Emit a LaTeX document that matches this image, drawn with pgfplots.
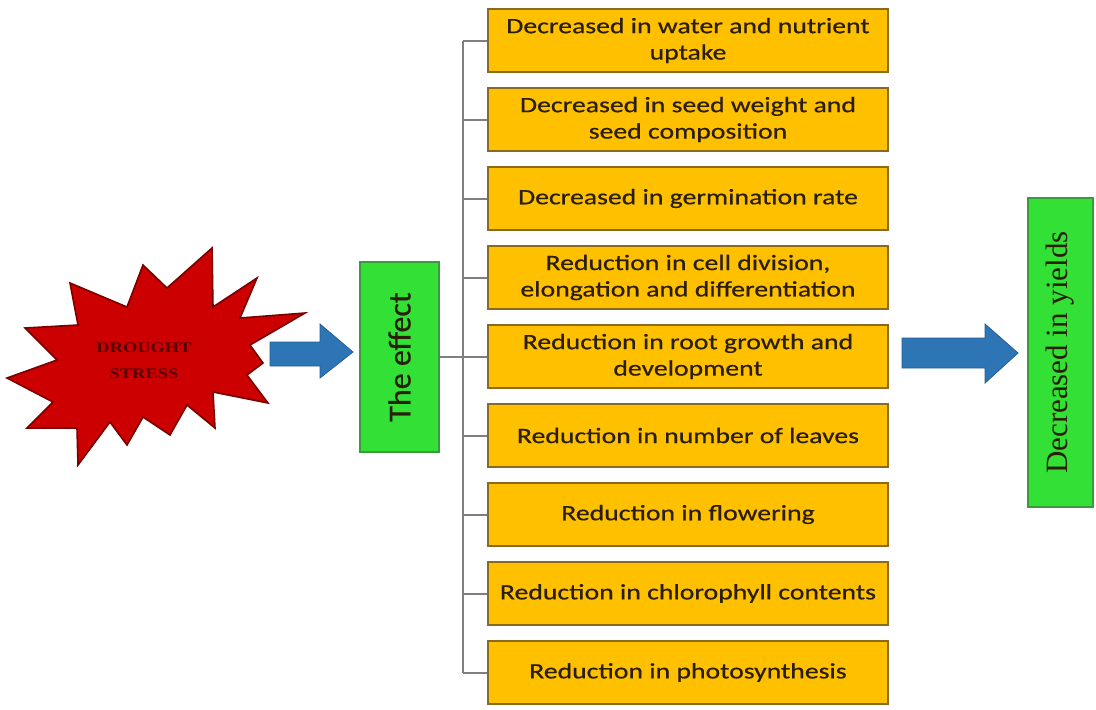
\documentclass[border=0pt]{standalone}
\usepackage{pgfplots}
\pgfplotsset{compat=1.18}
\usepackage{fontspec}
\setmainfont{Carlito}
\newfontfamily\boxfont[FakeBold=0.5]{Carlito}
\newfontfamily\seriffont{Liberation Serif}
\definecolor{boxfill}{HTML}{FFC000}
\definecolor{boxedge}{HTML}{8A6A1E}
\definecolor{gfill}{HTML}{33E036}
\definecolor{gedge}{HTML}{3C9A3C}
\definecolor{arrowblue}{HTML}{2E75B6}
\definecolor{starred}{HTML}{CC0000}
\definecolor{staredge}{HTML}{7A0000}
\definecolor{txt}{HTML}{2A1E05}
\definecolor{linegray}{HTML}{7F7F7F}
\begin{document}
\begin{tikzpicture}
\begin{axis}[width=548pt,height=354.5pt,scale only axis,hide axis,clip=false,
  xmin=0,xmax=1096,ymin=0,ymax=709,y dir=reverse]
\addplot[draw=none] coordinates {(0,0) (1096,709)};
% connector lines
\addplot[linegray,line width=1pt] coordinates {(463,40.5) (463,672.5)};
\addplot[linegray,line width=1pt] coordinates {(439,357) (463,357)};
\addplot[linegray,line width=1pt] coordinates {(463,40.5) (488,40.5)};
\addplot[linegray,line width=1pt] coordinates {(463,119.5) (488,119.5)};
\addplot[linegray,line width=1pt] coordinates {(463,198.5) (488,198.5)};
\addplot[linegray,line width=1pt] coordinates {(463,277.5) (488,277.5)};
\addplot[linegray,line width=1pt] coordinates {(463,356.5) (488,356.5)};
\addplot[linegray,line width=1pt] coordinates {(463,435.5) (488,435.5)};
\addplot[linegray,line width=1pt] coordinates {(463,514.5) (488,514.5)};
\addplot[linegray,line width=1pt] coordinates {(463,593.5) (488,593.5)};
\addplot[linegray,line width=1pt] coordinates {(463,672.5) (488,672.5)};
% effect boxes
\addplot[fill=boxfill,draw=boxedge,line width=0.8pt] coordinates {(488,9) (888,9) (888,72) (488,72)} --cycle;
\addplot[fill=boxfill,draw=boxedge,line width=0.8pt] coordinates {(488,88) (888,88) (888,151) (488,151)} --cycle;
\addplot[fill=boxfill,draw=boxedge,line width=0.8pt] coordinates {(488,167) (888,167) (888,230) (488,230)} --cycle;
\addplot[fill=boxfill,draw=boxedge,line width=0.8pt] coordinates {(488,246) (888,246) (888,309) (488,309)} --cycle;
\addplot[fill=boxfill,draw=boxedge,line width=0.8pt] coordinates {(488,325) (888,325) (888,388) (488,388)} --cycle;
\addplot[fill=boxfill,draw=boxedge,line width=0.8pt] coordinates {(488,404) (888,404) (888,467) (488,467)} --cycle;
\addplot[fill=boxfill,draw=boxedge,line width=0.8pt] coordinates {(488,483) (888,483) (888,546) (488,546)} --cycle;
\addplot[fill=boxfill,draw=boxedge,line width=0.8pt] coordinates {(488,562) (888,562) (888,625) (488,625)} --cycle;
\addplot[fill=boxfill,draw=boxedge,line width=0.8pt] coordinates {(488,641) (888,641) (888,704) (488,704)} --cycle;
% green boxes
\addplot[fill=gfill,draw=gedge,line width=0.8pt] coordinates {(360,262) (439,262) (439,452) (360,452)} --cycle;
\addplot[fill=gfill,draw=gedge,line width=0.8pt] coordinates {(1028,198) (1093,198) (1093,507) (1028,507)} --cycle;
% arrows
\addplot[fill=arrowblue,draw=arrowblue!80!black,line width=0.4pt] coordinates {(270,342) (320,342) (320,324) (353,352) (320,378) (320,366) (270,366)} --cycle;
\addplot[fill=arrowblue,draw=arrowblue!80!black,line width=0.4pt] coordinates {(902,338) (985,338) (985,324) (1018,353) (985,383) (985,368) (902,368)} --cycle;
% star
\addplot[fill=starred,draw=staredge,line width=0.8pt] coordinates {
 (70,283) (127,307) (143,265) (167,288) (212,248) (213,307) (257,278) (240,318)
 (305,313) (250,345) (263,363) (247,375) (268,403) (213,392) (215,428) (187,405)
 (170,435) (143,417) (127,445) (110,422) (78,465) (77,428) (27,428) (53,402)
 (7,378) (57,360) (25,328) (78,325)} --cycle;
% texts
\tikzset{bt/.style={align=center,text=txt,xscale=1.26,font=\boxfont\fontsize{11}{13.2}\selectfont}}
\node[bt] at (axis cs:688,40.5) {Decreased in water and nutrient\\uptake};
\node[bt] at (axis cs:688,119.5) {Decreased in seed weight and\\seed composition};
\node[bt] at (axis cs:688,198.5) {Decreased in germination rate};
\node[bt] at (axis cs:688,277.5) {Reduction in cell division,\\elongation and differentiation};
\node[bt] at (axis cs:688,356.5) {Reduction in root growth and\\development};
\node[bt] at (axis cs:688,435.5) {Reduction in number of leaves};
\node[bt] at (axis cs:688,514.5) {Reduction in flowering};
\node[bt] at (axis cs:688,593.5) {Reduction in chlorophyll contents};
\node[bt] at (axis cs:688,672.5) {Reduction in photosynthesis};
\node[rotate=90,text=txt,font=\boxfont\fontsize{16}{19}\selectfont] at (axis cs:399.5,357) {The effect};
\node[rotate=90,text=txt,font=\seriffont\fontsize{15.5}{18}\selectfont] at (axis cs:1060.5,352.5) {Decreased in yields};
\node[align=center,text=staredge!70!black,xscale=1.26,font=\seriffont\bfseries\fontsize{7.3}{13}\selectfont] at (axis cs:144,361) {DROUGHT\\STRESS};
\end{axis}
\end{tikzpicture}
\end{document}
